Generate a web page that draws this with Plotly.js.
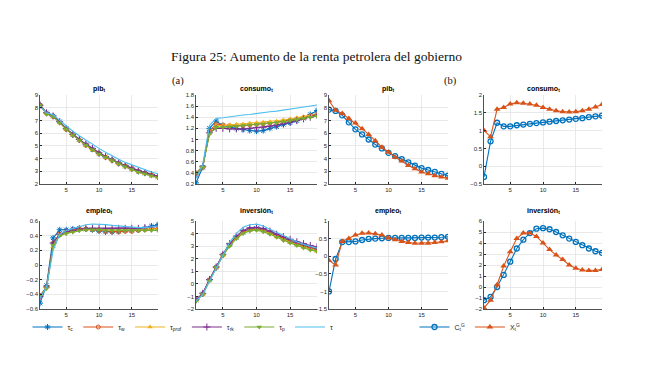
<!DOCTYPE html>
<html><head><meta charset="utf-8">
<script src="https://cdn.plot.ly/plotly-3.0.1.min.js"></script>
<style>html,body{margin:0;padding:0;background:#fff}#chart{width:656px;height:371px}</style>
</head><body><div id="chart"></div>
<script>
const periods = [1,2,3,4,5,6,7,8,9,10,11,12,13,14,15,16,17,18,19];

// Panel (a): pib
const pib_tc    = [8.2,7.6,7.35,6.9,6.35,5.9,5.5,5.1,4.75,4.4,4.15,3.9,3.65,3.4,3.2,3.0,2.85,2.7,2.55];
const pib_tw    = [8.2,7.55,7.3,6.85,6.3,5.85,5.45,5.05,4.7,4.4,4.1,3.85,3.6,3.4,3.2,3.0,2.85,2.7,2.55];
const pib_tprof = [8.15,7.55,7.3,6.85,6.3,5.85,5.45,5.05,4.7,4.35,4.1,3.85,3.6,3.35,3.15,2.95,2.8,2.65,2.5];
const pib_trk   = [8.2,7.6,7.35,6.9,6.35,5.9,5.5,5.15,4.8,4.45,4.15,3.9,3.65,3.45,3.25,3.05,2.9,2.75,2.6];
const pib_tp    = [8.2,7.5,7.3,6.8,6.3,5.85,5.45,5.05,4.7,4.35,4.1,3.85,3.6,3.35,3.15,2.95,2.8,2.65,2.5];
const pib_t     = [8.1,7.6,7.45,7.0,6.55,6.15,5.8,5.45,5.1,4.8,4.5,4.2,3.95,3.7,3.5,3.3,3.1,2.95,2.8];

// Panel (a): consumo
const con_tc    = [0.22,0.5,1.2,1.33,1.25,1.22,1.2,1.18,1.16,1.15,1.16,1.2,1.23,1.27,1.3,1.34,1.38,1.45,1.52];
const con_tw    = [0.35,0.5,1.15,1.28,1.26,1.25,1.25,1.25,1.26,1.27,1.28,1.29,1.31,1.33,1.35,1.37,1.39,1.42,1.45];
const con_tprof = [0.4,0.52,1.1,1.25,1.25,1.26,1.27,1.28,1.29,1.3,1.31,1.32,1.33,1.35,1.37,1.39,1.41,1.43,1.46];
const con_trk   = [0.38,0.52,1.12,1.2,1.2,1.19,1.19,1.19,1.2,1.21,1.22,1.24,1.26,1.28,1.31,1.34,1.37,1.4,1.44];
const con_tp    = [0.4,0.5,1.1,1.22,1.22,1.23,1.24,1.25,1.26,1.27,1.28,1.29,1.3,1.32,1.34,1.36,1.38,1.4,1.42];
const con_t     = [0.3,0.55,1.25,1.38,1.39,1.41,1.42,1.44,1.45,1.47,1.48,1.5,1.51,1.53,1.54,1.56,1.58,1.6,1.62];

// Panel (a): empleo
const emp_tc    = [-0.52,-0.28,0.37,0.48,0.48,0.49,0.5,0.49,0.48,0.46,0.45,0.45,0.46,0.47,0.47,0.48,0.5,0.53,0.55];
const emp_tw    = [-0.42,-0.3,0.3,0.42,0.45,0.47,0.49,0.49,0.48,0.47,0.46,0.45,0.45,0.46,0.46,0.47,0.48,0.49,0.5];
const emp_tprof = [-0.42,-0.3,0.25,0.4,0.44,0.46,0.48,0.49,0.49,0.49,0.48,0.48,0.48,0.48,0.48,0.48,0.48,0.49,0.49];
const emp_trk   = [-0.43,-0.3,0.3,0.42,0.45,0.47,0.49,0.5,0.5,0.5,0.5,0.5,0.5,0.5,0.5,0.5,0.51,0.52,0.53];
const emp_tp    = [-0.42,-0.32,0.27,0.4,0.43,0.45,0.47,0.48,0.48,0.48,0.47,0.47,0.47,0.47,0.47,0.47,0.47,0.47,0.47];
const emp_t     = [-0.45,-0.3,0.2,0.42,0.47,0.5,0.53,0.55,0.56,0.56,0.55,0.54,0.53,0.52,0.51,0.51,0.51,0.52,0.53];

// Panel (a): inversión
const inv_tc    = [-1.3,-0.8,0.3,1.3,2.3,3.1,3.7,4.1,4.35,4.4,4.3,4.1,3.85,3.6,3.4,3.2,3.05,2.9,2.75];
const inv_tw    = [-1.3,-0.8,0.3,1.3,2.3,3.1,3.7,4.1,4.3,4.35,4.25,4.05,3.8,3.55,3.35,3.15,3.0,2.85,2.7];
const inv_tprof = [-1.35,-0.85,0.25,1.3,2.25,3.05,3.65,4.05,4.25,4.3,4.2,4.0,3.75,3.5,3.3,3.1,2.9,2.75,2.6];
const inv_trk   = [-1.25,-0.75,0.35,1.35,2.35,3.2,3.8,4.25,4.45,4.5,4.4,4.2,3.95,3.75,3.55,3.35,3.2,3.05,2.95];
const inv_tp    = [-1.35,-0.85,0.25,1.3,2.25,3.0,3.6,4.0,4.2,4.27,4.15,3.95,3.7,3.45,3.25,3.05,2.85,2.7,2.57];
const inv_t     = [-1.35,-0.85,0.2,1.2,2.3,3.3,4.0,4.5,4.7,4.75,4.6,4.35,4.05,3.8,3.55,3.35,3.15,3.0,2.85];

// Panel (b)
const pib_CG = [7.85,7.75,7.4,6.85,6.3,5.9,5.5,5.1,4.8,4.45,4.2,3.95,3.7,3.45,3.25,3.1,2.95,2.8,2.65];
const pib_XG = [8.55,7.8,7.55,7.15,6.8,6.35,5.9,5.4,4.9,4.5,4.1,3.8,3.45,3.2,2.95,2.8,2.65,2.55,2.45];
const con_CG = [-0.3,0.7,1.22,1.12,1.12,1.15,1.17,1.19,1.21,1.23,1.25,1.27,1.29,1.31,1.33,1.35,1.38,1.4,1.42];
const con_XG = [1.0,0.83,1.6,1.65,1.75,1.78,1.77,1.75,1.71,1.65,1.6,1.56,1.53,1.52,1.53,1.56,1.6,1.66,1.73];
const emp_CG = [-1.0,-0.08,0.4,0.4,0.42,0.46,0.49,0.5,0.51,0.52,0.52,0.52,0.52,0.52,0.53,0.53,0.53,0.54,0.55];
const emp_XG = [-0.12,-0.25,0.42,0.5,0.6,0.65,0.66,0.64,0.6,0.52,0.47,0.42,0.39,0.37,0.37,0.37,0.39,0.41,0.44];
const inv_CG = [-1.2,-0.9,0.0,1.1,2.3,3.5,4.3,4.9,5.3,5.35,5.25,5.0,4.7,4.4,4.1,3.8,3.5,3.25,3.1];
const inv_XG = [-1.9,-1.2,0.2,1.9,3.2,4.4,4.9,4.9,4.6,4.0,3.4,2.9,2.5,2.0,1.7,1.55,1.5,1.5,1.6];

const namesA = ['τ<sub>c</sub>','τ<sub>w</sub>','τ<sub>prof</sub>','τ<sub>rk</sub>','τ<sub>p</sub>','τ'];
const namesB = ['C<sub>t</sub><sup>G</sup>','X<sub>t</sub><sup>G</sup>'];
const titles = ['pib','consumo','pib','consumo','empleo','inversión','empleo','inversión'];

const W = 656, H = 371;
const colors = ['#0072BD','#D95319','#EDB120','#7E2F8E','#77AC30','#4DBEEE'];
const styA = [
  {mode:'lines+markers', marker:{symbol:'asterisk-open', size:5, line:{color:colors[0], width:1}}},
  {mode:'lines+markers', marker:{symbol:'circle-open', size:4, line:{color:colors[1], width:1}}},
  {mode:'lines+markers', marker:{symbol:'triangle-up', size:5, color:colors[2]}},
  {mode:'lines+markers', marker:{symbol:'cross-thin-open', size:5, line:{color:colors[3], width:1}}},
  {mode:'lines+markers', marker:{symbol:'triangle-down', size:5, color:colors[4]}},
  {mode:'lines'}
];
const styB = [
  {mode:'lines+markers', marker:{symbol:'circle-open', size:5, line:{color:colors[0], width:1.3}}},
  {mode:'lines+markers', marker:{symbol:'triangle-up', size:6, color:colors[1]}}
];

const panelsA = [
  {ax:1, data:[pib_tc,pib_tw,pib_tprof,pib_trk,pib_tp,pib_t]},
  {ax:2, data:[con_tc,con_tw,con_tprof,con_trk,con_tp,con_t]},
  {ax:5, data:[emp_tc,emp_tw,emp_tprof,emp_trk,emp_tp,emp_t]},
  {ax:6, data:[inv_tc,inv_tw,inv_tprof,inv_trk,inv_tp,inv_t]}
];
const panelsB = [
  {ax:3, data:[pib_CG,pib_XG]},
  {ax:4, data:[con_CG,con_XG]},
  {ax:7, data:[emp_CG,emp_XG]},
  {ax:8, data:[inv_CG,inv_XG]}
];

const traces = [];
panelsA.forEach((p, pi) => {
  p.data.forEach((ys, i) => {
    const s = styA[i];
    traces.push(Object.assign({
      type:'scatter', x:periods, y:ys, name:namesA[i],
      xaxis:'x'+(p.ax===1?'':p.ax), yaxis:'y'+(p.ax===1?'':p.ax),
      line:{color:colors[i], width:1.1},
      legendgroup:'a'+i, showlegend: pi===0, legend:'legend'
    }, s));
  });
});
panelsB.forEach((p, pi) => {
  p.data.forEach((ys, i) => {
    const s = styB[i];
    traces.push(Object.assign({
      type:'scatter', x:periods, y:ys, name:namesB[i],
      xaxis:'x'+p.ax, yaxis:'y'+p.ax,
      line:{color:colors[i], width:1.1},
      legendgroup:'b'+i, showlegend: pi===0, legend:'legend2'
    }, s));
  });
});

const colsPx = [[40,158],[196,317],[329,448],[484,602]];
const rowsPx = [[95,184],[221,309]];
const yr = [[2,9,1],[0.2,1.8,0.2],[2,9,1],[-0.5,2,0.5],[-0.6,0.6,0.2],[-2,5,1],[-1.5,1,0.5],[-2,6,1]];

const layout = {
  width:W, height:H, margin:{l:0,r:0,t:0,b:0},
  paper_bgcolor:'#fff', plot_bgcolor:'#fff',
  font:{family:'Liberation Sans, Arial, sans-serif', size:6, color:'#262626'},
  annotations:[], showlegend:true,
  legend:{orientation:'h', x:183/W, y:1-327/H, xanchor:'center', yanchor:'middle',
          font:{size:7}, itemwidth:30, bgcolor:'rgba(0,0,0,0)', tracegroupgap:0},
  legend2:{orientation:'h', x:470/W, y:1-327/H, xanchor:'center', yanchor:'middle',
          font:{size:7}, itemwidth:30, bgcolor:'rgba(0,0,0,0)'}
};
for (let k = 1; k <= 8; k++) {
  const c = colsPx[(k-1)%4], r = rowsPx[k<=4?0:1];
  const sfx = k===1?'':k;
  layout['xaxis'+sfx] = {
    domain:[c[0]/W, c[1]/W], anchor:'y'+sfx, range:[1,19], tickvals:[5,10,15],
    showgrid:true, gridcolor:'#e3e3e3', gridwidth:0.8, zeroline:false,
    showline:true, linecolor:'#262626', linewidth:0.8, ticks:'inside', ticklen:2, tickcolor:'#262626',
    tickfont:{size:6}, fixedrange:true
  };
  layout['yaxis'+sfx] = {
    domain:[1-r[1]/H, 1-r[0]/H], anchor:'x'+sfx, range:[yr[k-1][0], yr[k-1][1]], dtick:yr[k-1][2], tick0:0,
    showgrid:true, gridcolor:'#e3e3e3', gridwidth:0.8, zeroline:false,
    showline:true, linecolor:'#262626', linewidth:0.8, ticks:'inside', ticklen:2, tickcolor:'#262626',
    tickfont:{size:6}, fixedrange:true
  };
  layout.annotations.push({
    xref:'paper', yref:'paper', x:(c[0]+c[1])/2/W, y:1-(k<=4?89:211)/H,
    text:'<b>'+titles[k-1]+'<sub>t</sub></b>', showarrow:false, xanchor:'center', yanchor:'middle',
    font:{size:7, color:'#000'}
  });
}
layout.annotations.push({xref:'paper', yref:'paper', x:316/W, y:1-47/H, showarrow:false,
  text:'Figura 25: Aumento de la renta petrolera del gobierno',
  font:{family:'Liberation Serif, DejaVu Serif, serif', size:13.5, color:'#111'}});
layout.annotations.push({xref:'paper', yref:'paper', x:170/W, y:1-73/H, showarrow:false,
  text:'(a)', font:{family:'Liberation Serif, DejaVu Serif, serif', size:10.5, color:'#111'}});
layout.annotations.push({xref:'paper', yref:'paper', x:459/W, y:1-73/H, showarrow:false,
  text:'(b)', font:{family:'Liberation Serif, DejaVu Serif, serif', size:10.5, color:'#111'}});

Plotly.newPlot('chart', traces, layout, {displayModeBar:false, staticPlot:true});
</script>
</body></html>
